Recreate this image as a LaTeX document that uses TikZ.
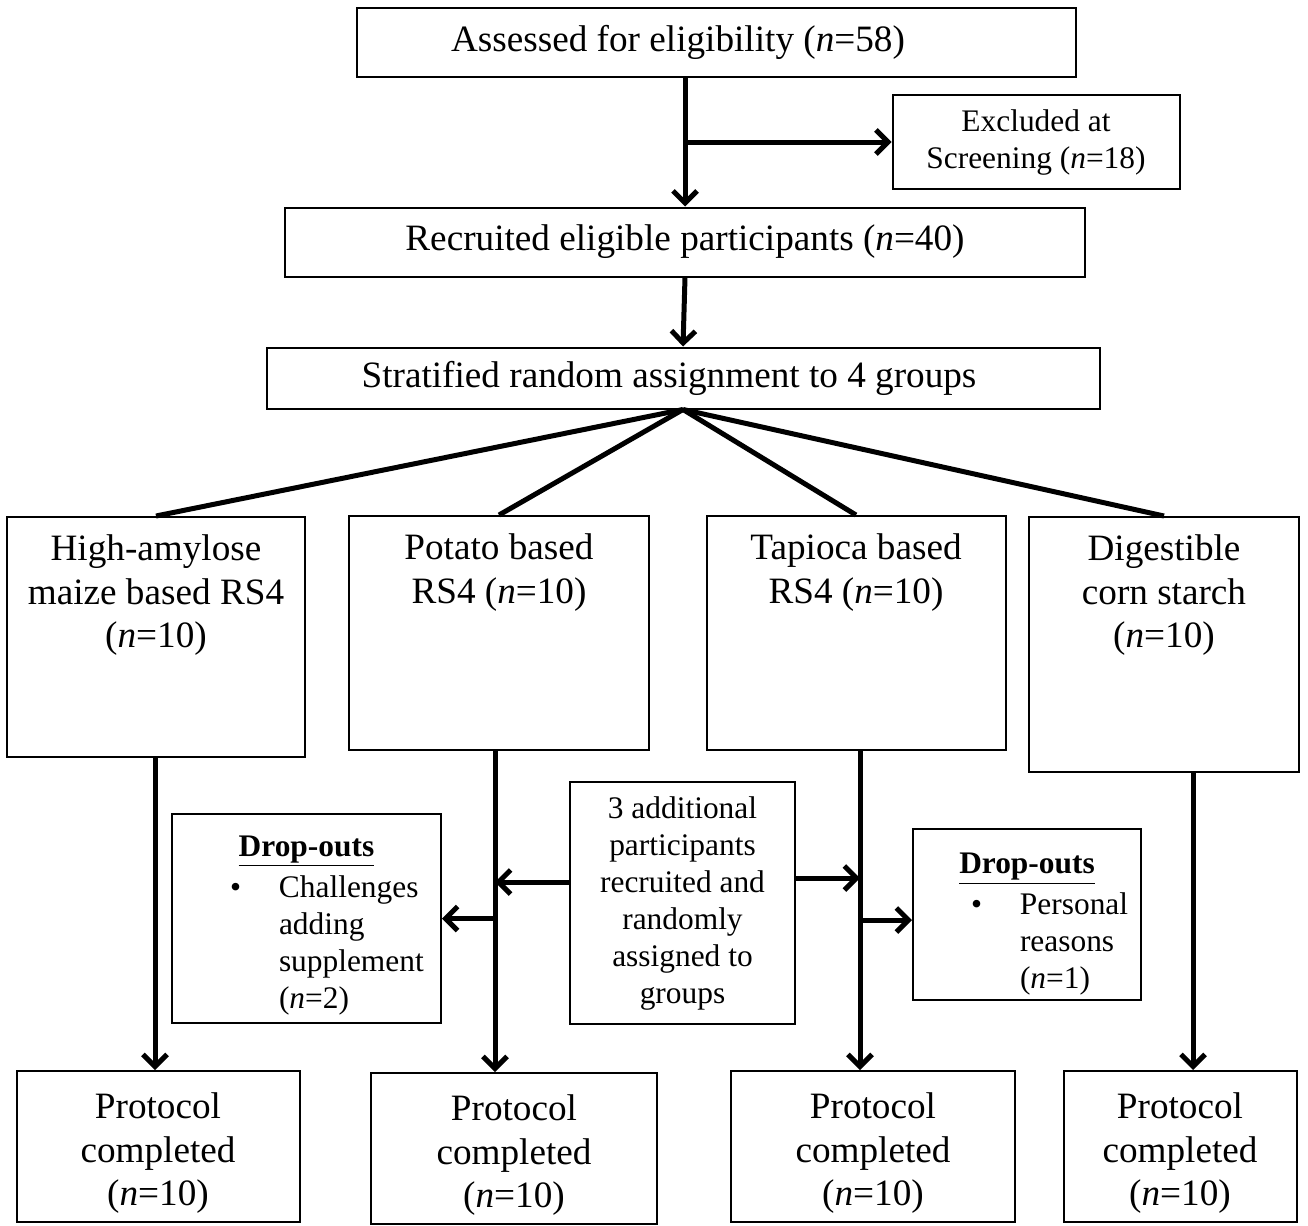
\documentclass[tikz,border=0pt]{standalone}
\usepackage{fontspec}
\setmainfont{Liberation Serif}
\usetikzlibrary{arrows.meta}

\newcommand{\toptext}[4]{\parbox[c][#1][t]{#2}{\centering\vspace*{#3}#4}}
\newcommand{\dropouts}[3]{{\centering\rule{0pt}{#1}\underline{\textbf{Drop-outs}}\par}\vspace{2pt}\hspace*{29pt}\makebox[24.5pt][l]{\textbullet}\parbox[t]{#2}{#3}}

\begin{document}
\begin{tikzpicture}[x=0.5pt,y=-0.5pt,
  box/.style={draw,line width=1pt,inner sep=0pt,align=center,font=\fontsize{18.6}{22}\selectfont},
  groupbox/.style={draw,line width=1pt,inner sep=0pt,font=\fontsize{18.6}{21.7}\selectfont},
  smallbox/.style={draw,line width=1pt,inner sep=0pt,align=center,font=\fontsize{15.7}{18.5}\selectfont},
  dropbox/.style={draw,line width=1pt,inner sep=0pt,align=left,font=\fontsize{15.7}{18.5}\selectfont},
  arr/.style={line width=2.5pt,-{Straight Barb[length=6pt,width=12pt]}},
  link/.style={line width=2.5pt}]

\useasboundingbox (0,0) rectangle (1308,1226);

\node[box,minimum width=359.5pt,minimum height=34.5pt] (assess) at (716,42) {Assessed for eligibility (\textit{n}=58)\hspace*{38pt}};
\node[smallbox,minimum width=143.5pt,minimum height=47pt] (excl) at (1036,142) {Excluded at\\Screening (\textit{n}=18)};
\node[box,minimum width=400pt,minimum height=34.5pt] (recr) at (685,242) {Recruited eligible participants (\textit{n}=40)};
\node[box,minimum width=416.5pt,minimum height=30.5pt] (strat) at (683,378) {Stratified random assignment to 4 groups\hspace*{14pt}};

\node[groupbox] (ha) at (156,637) {\toptext{120pt}{149pt}{9pt}{High-amylose\\maize based RS4\\(\textit{n}=10)}};
\node[groupbox] (pot) at (499,633) {\toptext{117pt}{150pt}{9pt}{Potato based\\RS4 (\textit{n}=10)}};
\node[groupbox] (tap) at (856,633) {\toptext{117pt}{149.5pt}{9pt}{Tapioca based\\RS4 (\textit{n}=10)}};
\node[groupbox] (dig) at (1164,644.5) {\toptext{127.5pt}{135pt}{9pt}{Digestible\\corn starch\\(\textit{n}=10)}};

\node[groupbox] (prot1) at (158,1146.5) {\toptext{75.5pt}{141.5pt}{11pt}{Protocol\\completed\\(\textit{n}=10)}};
\node[groupbox] (prot2) at (514,1148.5) {\toptext{75.5pt}{143pt}{11pt}{Protocol\\completed\\(\textit{n}=10)}};
\node[groupbox] (prot3) at (873,1146.5) {\toptext{75.5pt}{142pt}{11pt}{Protocol\\completed\\(\textit{n}=10)}};
\node[groupbox] (prot4) at (1180,1146.5) {\toptext{75.5pt}{116.5pt}{11pt}{Protocol\\completed\\(\textit{n}=10)}};

\node[dropbox,text width=134.5pt,minimum height=104.5pt] (dropL) at (306.5,918.5) {\dropouts{17pt}{80pt}{Challenges\\adding\\supplement\\(\textit{n}=2)}};
\node[smallbox,minimum width=112.5pt,minimum height=121pt] (add) at (682.5,903) {3 additional\\participants\\recruited and\\randomly\\assigned to\\groups};
\node[dropbox,text width=114pt,minimum height=85.5pt] (dropR) at (1027,914.5) {\dropouts{20pt}{58pt}{Personal\\reasons\\(\textit{n}=1)}};

\coordinate (haline) at (155,0);
\coordinate (potline) at (495,0);
\coordinate (tapline) at (860,0);
\coordinate (digline) at (1193,0);

% top part
\draw[arr] (recr.north |- assess.south) -- (recr.north);
\draw[arr] (recr.north |- excl.west) -- (excl.west);
\draw[arr] (recr.south) -- (strat.north);

% groups
\draw[link] (strat.south) -- (ha.north);
\draw[link] (strat.south) -- (pot.north);
\draw[link] (strat.south) -- (tap.north);
\draw[link] (strat.south) -- (dig.north);

\draw[arr] (haline |- ha.south) -- (haline |- prot1.north);
\draw[arr] (potline |- pot.south) -- (potline |- prot2.north);
\draw[arr] (tapline |- tap.south) -- (tapline |- prot3.north);
\draw[arr] (digline |- dig.south) -- (digline |- prot4.north);

% drop-outs and additional
\draw[arr] (potline |- dropL.east) -- (dropL.east);
\draw[arr] (add.west |- 0,882) -- (potline |- 0,882);
\draw[arr] (add.east |- 0,878) -- (tapline |- 0,878);
\draw[arr] (tapline |- 0,920) -- (dropR.west |- 0,920);

\end{tikzpicture}
\end{document}
